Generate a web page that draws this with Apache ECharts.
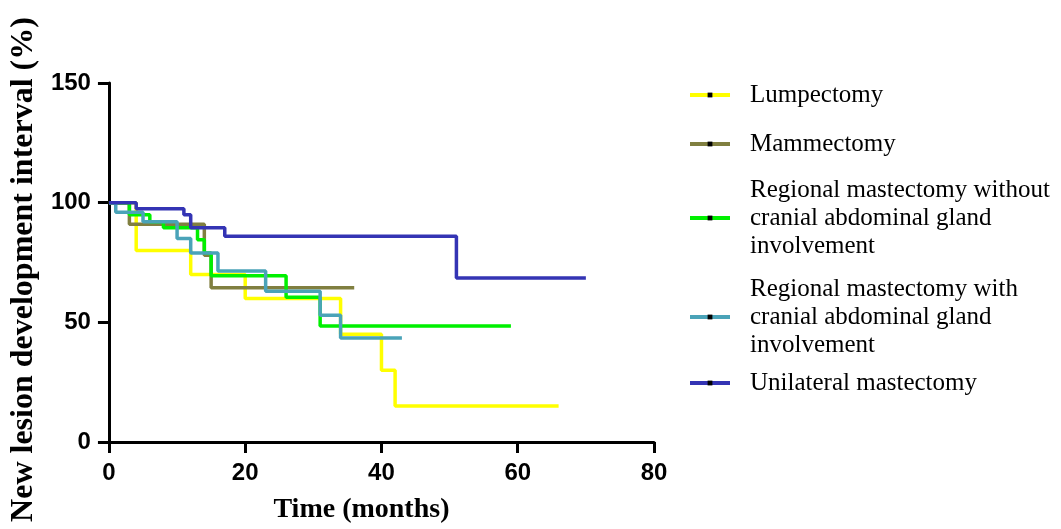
<!DOCTYPE html>
<html>
<head>
<meta charset="utf-8">
<script src="https://cdn.jsdelivr.net/npm/echarts@6/dist/echarts.min.js"></script>
<style>html,body{margin:0;padding:0;background:#fff;}#c{width:1061px;height:529px;}</style>
</head>
<body>
<div id="c"></div>
<script>
const seriesNames = [
  'Lumpectomy',
  'Mammectomy',
  'Regional mastectomy without cranial abdominal gland involvement',
  'Regional mastectomy with cranial abdominal gland involvement',
  'Unilateral mastectomy'
];
const legendLabels = [
  'Lumpectomy',
  'Mammectomy',
  'Regional mastectomy without\ncranial abdominal gland\ninvolvement',
  'Regional mastectomy with\ncranial abdominal gland\ninvolvement',
  'Unilateral mastectomy'
];
const lumpectomy = [[0,100],[4,80],[12,70],[20,60],[34,45],[40,30],[42,15],[66,15]];
const mammectomy = [[0,100],[3,91],[14,78],[15,64.5],[36,64.5]];
const regionalWithout = [[0,100],[3,95],[6,92],[8,89.5],[13,84.5],[14,79],[15,69.5],[26,60.5],[31,48.5],[59,48.5]];
const regionalWith = [[0,100],[1,96],[5,92],[10,85],[12,79],[16,71.5],[23,63],[31,53],[34,43.5],[43,43.5]];
const unilateral = [[0,100],[4,97.5],[11,95],[12,89.5],[17,86],[51,68.5],[70,68.5]];
const xTicks = [0, 20, 40, 60, 80];
const yTicks = [0, 50, 100, 150];

const allData = [lumpectomy, mammectomy, regionalWithout, regionalWith, unilateral];
const colors = ['#FFFF00', '#807F40', '#00F000', '#4AA3B8', '#3434B4'];
const legendCenters = [95, 144, 218, 317, 383];
const legendLines = [1, 1, 3, 3, 1];

const chart = echarts.init(document.getElementById('c'));
const axisLbl = {fontFamily: 'Liberation Sans, Arial', fontWeight: 'bold', fontSize: 24, color: '#000'};
const option = {
  backgroundColor: '#fff',
  animation: false,
  grid: {left: 108, right: 407, top: 83, bottom: 86, containLabel: false},
  xAxis: {
    type: 'value', min: xTicks[0], max: xTicks[xTicks.length-1], interval: 20,
    name: 'Time (months)', nameLocation: 'middle', nameGap: 54,
    nameTextStyle: {fontFamily: 'Liberation Serif, Times New Roman', fontWeight: 'bold', fontSize: 28, color: '#000', padding: [0, 40, 0, 0]},
    axisLine: {show: true, onZero: false, lineStyle: {color: '#000', width: 3}},
    axisTick: {show: true, length: 11, lineStyle: {color: '#000', width: 3}},
    axisLabel: Object.assign({margin: 19}, axisLbl),
    splitLine: {show: false}
  },
  yAxis: {
    type: 'value', min: yTicks[0], max: yTicks[yTicks.length-1], interval: 50,
    name: 'New lesion development interval (%)', nameLocation: 'middle', nameGap: 62,
    nameTextStyle: {fontFamily: 'Liberation Serif, Times New Roman', fontWeight: 'bold', fontSize: 32, color: '#000', padding: [0, 14, 0, 0]},
    axisLine: {show: true, onZero: false, lineStyle: {color: '#000', width: 3}},
    axisTick: {show: true, length: 11, lineStyle: {color: '#000', width: 3}},
    axisLabel: Object.assign({margin: 18}, axisLbl),
    splitLine: {show: false}
  },
  legend: seriesNames.map((n, i) => ({
    data: [n],
    left: 688,
    top: legendCenters[i] - legendLines[i] * 14,
    orient: 'vertical',
    padding: 0,
    itemWidth: 40,
    itemHeight: 6,
    lineStyle: {width: 4},
    formatter: () => legendLabels[i],
    textStyle: {fontFamily: 'Liberation Serif, Times New Roman', fontSize: 25, lineHeight: 28, color: '#000', padding: [0, 0, 0, 15]}
  })),
  series: seriesNames.map((n, i) => ({
    name: n,
    type: 'line',
    step: 'end',
    data: allData[i],
    symbol: 'rect',
    symbolSize: 3,
    showSymbol: false,
    itemStyle: {color: '#000'},
    lineStyle: {color: colors[i], width: 3.5},
    z: 2 + i
  }))
};
chart.setOption(option);
</script>
</body>
</html>
